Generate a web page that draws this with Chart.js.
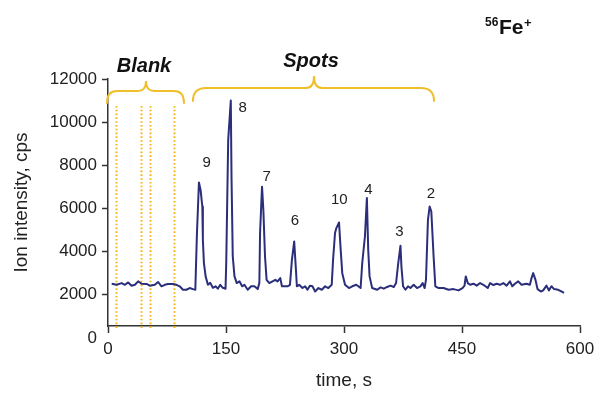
<!DOCTYPE html>
<html>
<head>
<meta charset="utf-8">
<script src="https://cdn.jsdelivr.net/npm/chart.js@4/dist/chart.umd.min.js"></script>
<style>
  html, body { margin: 0; padding: 0; background: #fff; }
  #wrap { width: 594px; height: 393px; }
</style>
</head>
<body>
<div id="wrap"><canvas id="c" width="594" height="393"></canvas></div>
<script>
// ---- data ----
const times = [4.7, 11, 17.3, 21.5, 25.7, 30, 34.2, 38.4, 42.7, 49, 53.2, 59.5, 63.7, 68, 72.2, 76.3, 82.7, 87, 91.1, 95.3, 99.6, 103.8, 108, 111,
  113, 115.6, 117.7, 119.9, 120.6, 121.9, 124.1, 127, 130, 133.3, 136.7, 139.6, 142.7, 145.9, 149.4,
  150.3, 152.8, 156.1, 157, 158.6, 160.8, 163.7, 167.1, 170.5, 173.4, 177.6, 181.9, 186.1, 190.3, 192.4,
  193.3, 195.8, 197.5, 199.6, 201.6, 205.1, 209.2, 212.7, 215.6, 219, 221.1, 224, 228.2, 231.3,
  233.8, 236.7, 238.9, 240.1, 243, 247.2, 250.6, 253.5, 256.6, 259.9, 263.3, 267.5, 271.8, 276, 280.1, 284.4,
  286.1, 288.6, 290.3, 293.7, 295.8, 297.8, 301.3, 306.3, 310.5, 315.6, 321.1,
  323.2, 326.6, 329.1, 330.8, 332.5, 335.8, 342.2, 346.5, 350.6, 354.8, 359.1, 363.3, 366.2,
  368.7, 371.8, 373, 375.1, 378.1, 381.4, 384.4, 388.6, 392.8, 397.1, 400, 402.5, 404.2,
  406.7, 408.9, 411, 413.9, 416.1, 420.3, 426.6, 432.9, 439.2, 445.6, 450.6, 453.2,
  454.8, 457.3, 460.4, 464.6, 468.7, 473, 477.2, 482.7, 485.7, 489.9, 494.1, 498.4, 502.5, 506.7, 511, 513.9,
  517.3, 521.5, 525.7, 532, 536.3, 538.4, 540.5, 543.4, 546, 550.3, 553.2, 557.4, 560.4, 563.7, 567.1, 572.2, 576.3, 579.7];
const intensity = [2510, 2460, 2540, 2460, 2570, 2420, 2460, 2620, 2510, 2500, 2420, 2460, 2590, 2390, 2460, 2500, 2500, 2460, 2390, 2230, 2230, 2310, 2260, 2230,
  4780, 7200, 6860, 6090, 4550, 3480, 2850, 2460, 2550, 2320, 2390, 2280, 2460, 2320, 2280,
  3470, 9180, 11000, 7480, 3770, 2850, 2540, 2620, 2390, 2460, 2230, 2390, 2390, 2260, 2540,
  4860, 7010, 5930, 3770, 2690, 2540, 2620, 2690, 2620, 2770, 2390, 2390, 2390, 2460,
  3620, 4470, 3160, 2390, 2460, 2310, 2390, 2230, 2420, 2390, 2150, 2310, 2230, 2390, 2310, 2460,
  3620, 4860, 5090, 5350, 4080, 3000, 2460, 2310, 2390, 2460, 2310,
  3470, 4700, 6480, 4080, 2850, 2310, 2230, 2340, 2280, 2360, 2420, 2360, 2540,
  3390, 4270, 3310, 2390, 2230, 2390, 2310, 2460, 2310, 2390, 2540, 2310, 2690,
  5470, 6090, 5860, 3770, 2390, 2310, 2310, 2230, 2260, 2200, 2310, 2420,
  2850, 2540, 2460, 2510, 2420, 2540, 2460, 2310, 2540, 2450, 2510, 2460, 2540, 2420, 2620, 2390,
  2510, 2620, 2460, 2510, 2460, 2770, 3000, 2690, 2260, 2150, 2200, 2420, 2200, 2390, 2260, 2230, 2150, 2080];

const yTickValues = [0, 2000, 4000, 6000, 8000, 10000, 12000];
const xTickValues = [0, 150, 300, 450, 600];

const peakNames  = ['9', '8', '7', '6', '10', '4', '3', '2'];
const peakLabelT = [125.5, 171.2, 201.7, 237.7, 294, 330.9, 370.3, 410.6];
const peakLabelV = [8092, 10656, 7471, 5417, 6390, 6854, 4921, 6669];

const blankMarkers = [10.2, 42, 53.4, 83.9];

const groupNames  = ['Blank', 'Spots'];
const groupStart  = [-1.3, 108];
const groupEnd    = [96.6, 414.4];
const groupCusp   = [48.3, 261.9];

const points = times.map((t, i) => ({ x: t, y: intensity[i] }));

const INK = '#222222';
const LINE = '#2b2e7a';
const GOLD = '#f0bf2c';
const DOT = '#f5b512';
const FONT = '"Liberation Sans", Arial, sans-serif';

const overlay = {
  id: 'overlay',
  beforeDatasetsDraw(chart) {
    const { ctx, scales: { x, y }, chartArea } = chart;
    ctx.save();
    ctx.strokeStyle = DOT;
    ctx.lineWidth = 2;
    ctx.setLineDash([1.6, 2.2]);
    blankMarkers.forEach(t => {
      const px = Math.round(x.getPixelForValue(t)) + 0.5;
      ctx.beginPath();
      ctx.moveTo(px, y.getPixelForValue(10750));
      ctx.lineTo(px, chartArea.bottom + 4);
      ctx.stroke();
    });
    ctx.restore();
  },
  afterDraw(chart) {
    const { ctx, scales: { x, y } } = chart;
    ctx.save();
    // peak labels
    ctx.fillStyle = INK;
    ctx.font = '15px ' + FONT;
    ctx.textAlign = 'center';
    ctx.textBaseline = 'middle';
    peakNames.forEach((n, i) => {
      ctx.fillText(n, x.getPixelForValue(peakLabelT[i]), y.getPixelForValue(peakLabelV[i]));
    });

    // braces
    const braces = [
      { yEnd: 10887, yMid: 11444, yTip: 11907, r: 10 },
      { yEnd: 10980, yMid: 11583, yTip: 12139, r: 13 }
    ];
    ctx.strokeStyle = GOLD;
    ctx.lineWidth = 2;
    ctx.lineCap = 'round';
    groupNames.forEach((name, i) => {
      const b = braces[i];
      const x1 = x.getPixelForValue(groupStart[i]);
      const x2 = x.getPixelForValue(groupEnd[i]);
      const xc = x.getPixelForValue(groupCusp[i]);
      const ye = y.getPixelForValue(b.yEnd);
      const ym = y.getPixelForValue(b.yMid);
      const yt = y.getPixelForValue(b.yTip);
      const r = b.r, rc = 8;
      ctx.beginPath();
      ctx.moveTo(x1, ye);
      ctx.quadraticCurveTo(x1, ym, x1 + r, ym);
      ctx.lineTo(xc - rc, ym);
      ctx.quadraticCurveTo(xc, ym, xc, yt);
      ctx.quadraticCurveTo(xc, ym, xc + rc, ym);
      ctx.lineTo(x2 - r, ym);
      ctx.quadraticCurveTo(x2, ym, x2, ye);
      ctx.stroke();

      ctx.fillStyle = '#111';
      ctx.font = 'italic bold 20px ' + FONT;
      ctx.textAlign = 'center';
      ctx.textBaseline = 'alphabetic';
      ctx.fillText(name, xc - (i === 0 ? 2 : 3), y.getPixelForValue(b.yTip) - 9);
    });

    // isotope label 56Fe+
    ctx.fillStyle = '#111';
    ctx.textAlign = 'left';
    ctx.textBaseline = 'alphabetic';
    ctx.font = 'bold 12px ' + FONT;
    ctx.fillText('56', 485, 26);
    ctx.font = 'bold 21px ' + FONT;
    ctx.fillText('Fe', 499, 34);
    ctx.font = 'bold 13px ' + FONT;
    ctx.fillText('+', 524, 27);
    ctx.restore();
  }
};

new Chart(document.getElementById('c'), {
  type: 'line',
  data: {
    datasets: [{
      data: points,
      borderColor: LINE,
      borderWidth: 2,
      pointRadius: 0,
      tension: 0,
      borderJoinStyle: 'round',
      fill: false
    }]
  },
  options: {
    responsive: false,
    animation: false,
    events: [],
    layout: { padding: { left: 0, right: 14, top: 79, bottom: 0 } },
    plugins: { legend: { display: false }, tooltip: { enabled: false }, title: { display: false } },
    scales: {
      x: {
        type: 'linear',
        min: 0, max: 600,
        afterBuildTicks(scale) { scale.ticks = xTickValues.map(v => ({ value: v })); },
        afterFit(scale) { scale.height = 67; scale.paddingLeft = 0; scale.paddingRight = 0; },
        grid: { display: true, drawOnChartArea: false, drawTicks: true, tickLength: 7, color: '#333', tickColor: '#333', tickWidth: 1.5 },
        border: { display: true, color: '#333', width: 1.5 },
        ticks: { color: INK, padding: 6, maxRotation: 0, callback: (v) => String(v), font: { family: FONT, size: 17 } },
        title: { display: true, text: 'time, s', color: INK, padding: { top: 0, bottom: 1 }, font: { family: FONT, size: 19 } }
      },
      y: {
        type: 'linear',
        min: 550, max: 12000,
        afterBuildTicks(scale) { scale.ticks = yTickValues.map(v => ({ value: v })); },
        afterFit(scale) { scale.width = 108; scale.paddingTop = 0; scale.paddingBottom = 0; },
        grid: {
          display: true, drawOnChartArea: false, drawTicks: true, tickLength: 6, tickWidth: 1.5,
          tickColor: (c) => (c.tick && c.tick.value === 0) ? 'rgba(0,0,0,0)' : '#333'
        },
        border: { display: true, color: '#333', width: 1.5 },
        ticks: { color: INK, padding: 5, callback: (v) => String(v), font: { family: FONT, size: 17 } },
        title: { display: true, text: 'Ion intensity, cps', color: INK, padding: { top: 10, bottom: 0 }, font: { family: FONT, size: 19 } }
      }
    }
  },
  plugins: [overlay]
});
</script>
</body>
</html>
